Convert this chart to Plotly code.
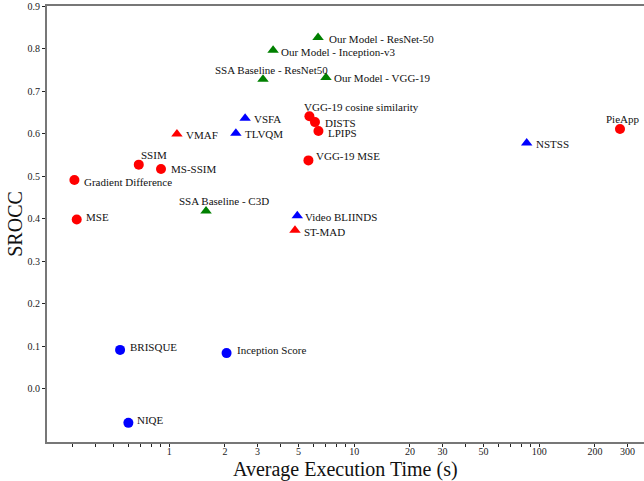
import math
import plotly.graph_objects as go

# ---- data (execution time in seconds, SROCC) ----
# red circles: full-reference image metrics
fr_names = ["SSIM", "MS-SSIM", "Gradient Difference", "MSE", "VGG-19 cosine similarity",
            "DISTS", "LPIPS", "VGG-19 MSE", "PieApp"]
fr_time = [0.684, 0.902, 0.307, 0.316, 5.72, 6.13, 6.40, 5.65, 273]
fr_srocc = [0.527, 0.517, 0.491, 0.398, 0.641, 0.627, 0.606, 0.537, 0.611]

# red triangles: full-reference video metrics
frv_names = ["VMAF", "ST-MAD"]
frv_time = [1.10, 4.78]
frv_srocc = [0.599, 0.373]

# green triangles: our models and baselines
our_names = ["Our Model - ResNet-50", "Our Model - Inception-v3", "SSA Baseline - ResNet50",
             "Our Model - VGG-19", "SSA Baseline - C3D"]
our_time = [6.37, 3.64, 3.21, 7.03, 1.58]
our_srocc = [0.826, 0.796, 0.728, 0.732, 0.418]

# blue circles: no-reference image metrics
nr_names = ["BRISQUE", "Inception Score", "NIQE"]
nr_time = [0.542, 2.04, 0.601]
nr_srocc = [0.0915, 0.084, -0.080]

# blue triangles: no-reference video metrics
nrv_names = ["VSFA", "TLVQM", "Video BLIINDS", "NSTSS"]
nrv_time = [2.57, 2.29, 4.92, 85.5]
nrv_srocc = [0.636, 0.601, 0.407, 0.578]

x_tick_labels = ["1", "2", "3", "5", "10", "20", "30", "50", "100", "200", "300"]
y_tick_values = [0.0, 0.1, 0.2, 0.3, 0.4, 0.5, 0.6, 0.7, 0.8, 0.9]

# ---- label placement (pixel offsets from marker: dx to left edge of text, dy down) ----
label_offsets = {
    "Our Model - ResNet-50": (9, 2), "Our Model - Inception-v3": (6, 2),
    "SSA Baseline - ResNet50": (-50, -9), "Our Model - VGG-19": (6, 1),
    "VSFA": (7, 1), "TLVQM": (7, 1), "VMAF": (7, 1), "SSIM": (0, -10),
    "MS-SSIM": (8, 0), "Gradient Difference": (8, 2), "MSE": (7, -3),
    "SSA Baseline - C3D": (-29, -10), "Video BLIINDS": (6, 1), "ST-MAD": (7, 2),
    "VGG-19 cosine similarity": (-7, -9), "DISTS": (8, 1), "LPIPS": (8, 2),
    "VGG-19 MSE": (6, -4), "NSTSS": (7, 1), "PieApp": (-16, -10),
    "BRISQUE": (8, -3), "Inception Score": (8, -3), "NIQE": (7, -3),
}

FONT = "Liberation Serif"
RED, GREEN, BLUE = "#ff0000", "#008000", "#0000ff"

groups = [
    (fr_names, fr_time, fr_srocc, RED, "circle", 10),
    (frv_names, frv_time, frv_srocc, RED, "triangle-up", 10),
    (our_names, our_time, our_srocc, GREEN, "triangle-up", 10),
    (nr_names, nr_time, nr_srocc, BLUE, "circle", 10),
    (nrv_names, nrv_time, nrv_srocc, BLUE, "triangle-up", 10),
]

fig = go.Figure()
annotations = []
for names, xs, ys, color, symbol, size in groups:
    fig.add_trace(go.Scatter(
        x=xs, y=ys, mode="markers", showlegend=False,
        marker=dict(color=color, symbol=symbol, size=size, line=dict(width=0)),
    ))
    for n, x, y in zip(names, xs, ys):
        dx, dy = label_offsets[n]
        annotations.append(dict(
            x=math.log10(x), y=y, xref="x", yref="y", text=n, showarrow=False,
            xanchor="left", yanchor="middle", xshift=dx, yshift=-dy,
            font=dict(family=FONT, size=11, color="#111111"),
        ))

# axis titles
annotations.append(dict(
    x=0.5, y=-0.062, xref="paper", yref="paper", text="Average Execution Time (s)",
    showarrow=False, xanchor="center", yanchor="middle",
    font=dict(family=FONT, size=20, color="#111111"),
))
annotations.append(dict(
    x=-0.054, y=0.5, xref="paper", yref="paper", text="SROCC", textangle=-90,
    showarrow=False, xanchor="center", yanchor="middle",
    font=dict(family=FONT, size=20, color="#111111"),
))

# x ticks: all 1..9 x decade positions, labels only on selected ones
x_tickvals, x_ticktext = [], []
for dec in [0.1, 1, 10, 100]:
    for m in range(1, 10):
        v = round(m * dec, 6)
        if v < 0.22 or v > 360:
            continue
        x_tickvals.append(v)
        lbl = f"{v:g}"
        x_ticktext.append(lbl if lbl in x_tick_labels else "")

fig.update_layout(
    width=644, height=481,
    margin=dict(l=47, r=0, t=6, b=39),
    paper_bgcolor="white", plot_bgcolor="white",
    annotations=annotations,
    font=dict(family=FONT, color="#222222"),
    xaxis=dict(
        type="log", range=[-0.661, 2.566],
        tickvals=x_tickvals, ticktext=x_ticktext,
        showgrid=False, zeroline=False,
        showline=True, linecolor="#777777", linewidth=2, mirror=True,
        ticks="outside", ticklen=3, tickwidth=1, tickcolor="#222222",
        ticklabelstandoff=-4,
        tickfont=dict(family=FONT, size=10, color="#222222"),
    ),
    yaxis=dict(
        range=[-0.125, 0.9],
        tickvals=y_tick_values, ticktext=[f"{v:.1f}" for v in y_tick_values],
        showgrid=False, zeroline=False,
        showline=True, linecolor="#777777", linewidth=2, mirror=False,
        ticks="outside", ticklen=3, tickwidth=1, tickcolor="#222222",
        tickfont=dict(family=FONT, size=10, color="#222222"),
    ),
)

fig.write_html("out.html", config={"displayModeBar": False},
               post_script="document.body.style.margin='0px';")
